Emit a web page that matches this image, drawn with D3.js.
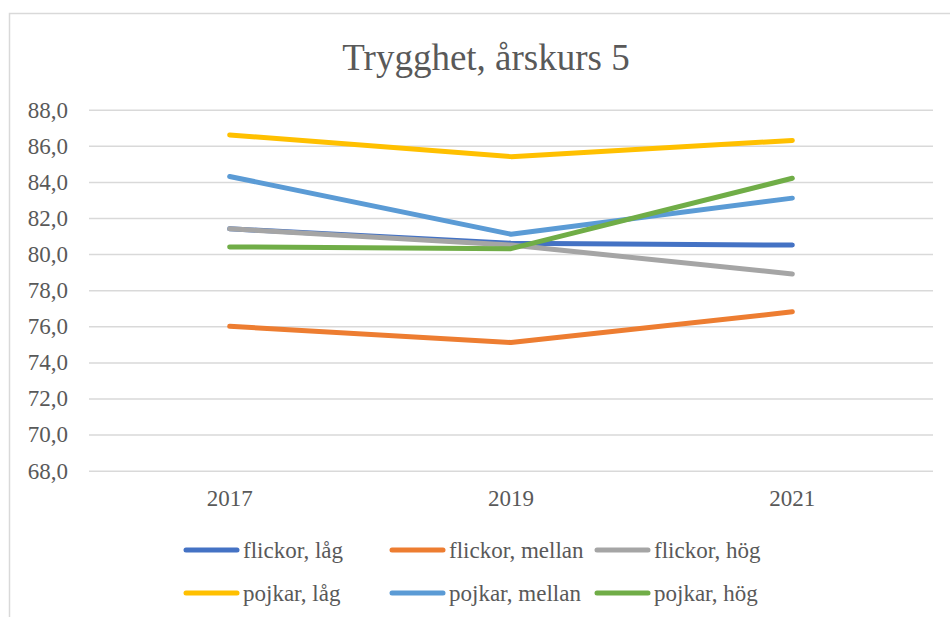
<!DOCTYPE HTML>
<html>
<head>
  <meta charset="utf-8">
  <title>Trygghet, årskurs 5</title>
  <script src="https://d3js.org/d3.v7.min.js"></script>
  <style>
    body { margin: 0; background: #fff; }
  </style>
</head>
<body>
  <script>
    const years = ['2017', '2019', '2021'];
    const seriesNames = ['flickor, låg', 'flickor, mellan', 'flickor, hög',
      'pojkar, låg', 'pojkar, mellan', 'pojkar, hög'];
    const seriesColors = ['#4472C4', '#ED7D31', '#A5A5A5', '#FFC000', '#5B9BD5', '#70AD47'];
    const flickorLag = [81.4, 80.6, 80.5];
    const flickorMellan = [76.0, 75.1, 76.8];
    const flickorHog = [81.4, 80.5, 78.9];
    const pojkarLag = [86.6, 85.4, 86.3];
    const pojkarMellan = [84.3, 81.1, 83.1];
    const pojkarHog = [80.4, 80.3, 84.2];
    const yTicks = [68, 70, 72, 74, 76, 78, 80, 82, 84, 86, 88];

    const allValues = [flickorLag, flickorMellan, flickorHog, pojkarLag, pojkarMellan, pojkarHog];
    const series = seriesNames.map((name, i) => ({ name, color: seriesColors[i], values: allValues[i] }));

    const FONT = '"Liberation Serif", "Times New Roman", serif';
    const W = 950, H = 617;
    const svg = d3.select('body').append('svg')
      .attr('width', W)
      .attr('height', H)
      .attr('font-family', FONT);

    // chart frame, runs past the window on right and bottom
    svg.append('rect')
      .attr('x', 9.5).attr('y', 13.5)
      .attr('width', 960).attr('height', 620)
      .attr('fill', '#fff')
      .attr('stroke', '#d9d9d9')
      .attr('stroke-width', 1.5);

    svg.append('text')
      .attr('x', 486).attr('y', 70)
      .attr('text-anchor', 'middle')
      .attr('fill', '#595959')
      .style('font-size', '37px')
      .text('Trygghet, årskurs 5');

    const x = d3.scaleBand().domain(years).range([89, 933]);
    const y = d3.scaleLinear().domain([68, 88]).range([470.7, 109.7]);

    const yAxis = d3.axisLeft(y).tickValues(yTicks)
      .tickFormat(d => d3.format('.1f')(d).replace('.', ','))
      .tickSize(-(933 - 89)).tickPadding(21);
    const gy = svg.append('g').attr('transform', 'translate(89,0)').call(yAxis)
      .attr('font-family', FONT);
    gy.select('.domain').remove();
    gy.selectAll('.tick line').attr('stroke', '#d9d9d9').attr('stroke-width', 1.5);
    gy.selectAll('.tick text').style('font-size', '23px').attr('fill', '#595959');

    const xAxis = d3.axisBottom(x).tickSize(0).tickPadding(19);
    const gx = svg.append('g').attr('transform', 'translate(0,470.7)').call(xAxis)
      .attr('font-family', FONT);
    gx.select('.domain').remove();
    gx.selectAll('.tick text').style('font-size', '23px').attr('fill', '#595959');

    const line = d3.line()
      .x((d, i) => x(years[i]) + x.bandwidth() / 2)
      .y(d => y(d));

    svg.append('g').selectAll('path')
      .data(series)
      .join('path')
      .attr('d', d => line(d.values))
      .attr('fill', 'none')
      .attr('stroke', d => d.color)
      .attr('stroke-width', 5)
      .attr('stroke-linecap', 'round')
      .attr('stroke-linejoin', 'round');

    // legend
    const legX = [186, 392, 597];
    const legY = [550, 593];
    const leg = svg.append('g').selectAll('g')
      .data(series)
      .join('g')
      .attr('transform', (d, i) => `translate(${legX[i % 3]},${legY[Math.floor(i / 3)]})`);
    leg.append('line')
      .attr('x1', 0).attr('x2', 51)
      .attr('stroke', d => d.color)
      .attr('stroke-width', 5)
      .attr('stroke-linecap', 'round');
    leg.append('text')
      .attr('x', 57).attr('dy', '0.34em')
      .attr('fill', '#595959')
      .style('font-size', '23px')
      .text(d => d.name);
  </script>
</body>
</html>
